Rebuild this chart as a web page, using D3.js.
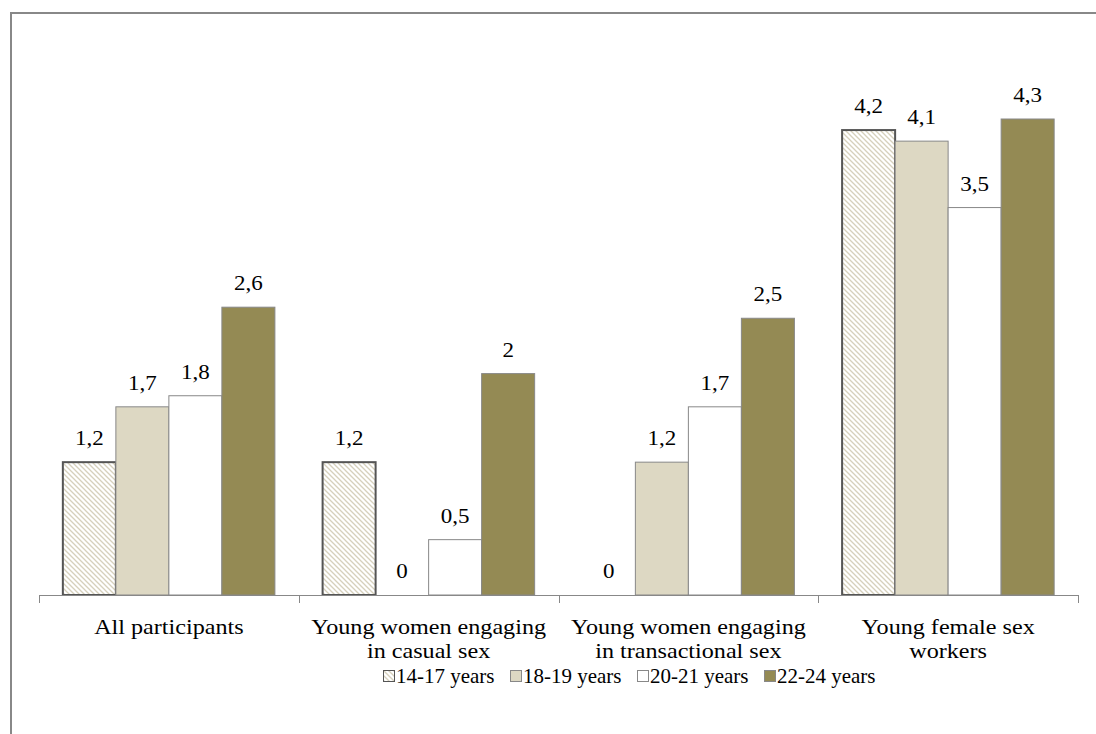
<!DOCTYPE html>
<html><head><meta charset="utf-8">
<script src="https://cdn.jsdelivr.net/npm/d3@7"></script>
<style>body{margin:0;background:#fff}svg{display:block}</style>
</head><body>
<svg id="c" width="1096" height="734"></svg>
<script>
const categories = [["All participants"],["Young women engaging","in casual sex"],["Young women engaging","in transactional sex"],["Young female sex","workers"]];
const seriesNames = ["14-17 years","18-19 years","20-21 years","22-24 years"];
const s1417 = [1.2, 1.2, 0, 4.2];
const s1819 = [1.7, 0, 1.2, 4.1];
const s2021 = [1.8, 0.5, 1.7, 3.5];
const s2224 = [2.6, 2, 2.5, 4.3];
const labels = [["1,2","1,2","0","4,2"],["1,7","0","1,2","4,1"],["1,8","0,5","1,7","3,5"],["2,6","2","2,5","4,3"]];
const seriesVals = [s1417, s1819, s2021, s2224];

const svg = d3.select("#c");
const defs = svg.append("defs");
const pat = defs.append("pattern").attr("id","hatch").attr("patternUnits","userSpaceOnUse")
  .attr("width",5).attr("height",5);
pat.append("rect").attr("width",5).attr("height",5).attr("fill","#fff");
pat.append("path").attr("d","M-1,-1 L6,6 M-1,4 L1,6 M4,-1 L6,1").attr("stroke","#d6d0bc").attr("stroke-width",1.3);

const fills = ["url(#hatch)","#ddd8c3","#ffffff","#948a54"];
const strokes = ["#555","#888","#888","#888"];
const sw = [2,1,1,1];

// frame
svg.append("path").attr("d","M11,740 L11,13 L1100,13").attr("fill","none").attr("stroke","#888").attr("stroke-width",2);

const x0 = d3.scaleBand().domain(d3.range(categories.length)).range([39,1078]);
const x1 = d3.scaleBand().domain(d3.range(4)).range([0,x0.bandwidth()]).paddingOuter(0.45).paddingInner(0);
const y = d3.scaleLinear().domain([0,4.3]).range([595,119]);

function stxt(sel, x, yy, size, sx, anchor, s){
  return sel.append("text").attr("transform",`translate(${x},${yy}) scale(${sx},1)`)
    .attr("text-anchor",anchor).style("font-family",'"Liberation Serif"').style("font-size",size+"px").attr("fill","#000").text(s);
}

const g = svg.append("g");
seriesVals.forEach((vals,si)=>{
  vals.forEach((v,ci)=>{
    const bx = x0(ci)+x1(si);
    if(v>0){
      g.append("rect").attr("x",bx).attr("y",y(v)).attr("width",x1.bandwidth()).attr("height",y(0)-y(v))
        .attr("fill",fills[si]).attr("stroke",strokes[si]).attr("stroke-width",sw[si]);
    }
    stxt(g, bx+x1.bandwidth()/2, y(v)-17, 20, 1.15, "middle", labels[si][ci]);
  });
});

// axis
svg.append("line").attr("x1",39).attr("x2",1078).attr("y1",595.5).attr("y2",595.5).attr("stroke","#888").attr("stroke-width",1);
const ticks = d3.range(categories.length+1).map(i=> i<categories.length? x0(i): x0(categories.length-1)+x0.bandwidth());
ticks.forEach(t=>svg.append("line").attr("x1",Math.round(t)+0.5).attr("x2",Math.round(t)+0.5).attr("y1",595).attr("y2",603).attr("stroke","#888"));

categories.forEach((lines,ci)=>{
  lines.forEach((l,li)=>{
    stxt(svg, x0(ci)+x0.bandwidth()/2, 634+li*24, 21, 1.15, "middle", l);
  });
});

// legend
const legScale = d3.scalePoint().domain(seriesNames).range([383, 764]);
seriesNames.forEach((n,i)=>{
  const lg = svg.append("g").attr("transform",`translate(${legScale(n)},670)`);
  lg.append("rect").attr("x",0.5).attr("y",0.5).attr("width",11).attr("height",11)
    .attr("fill",fills[i]).attr("stroke",i===0?"#555":"#888").attr("stroke-width",1);
  stxt(lg, 13, 13, 20, 1.05, "start", n);
});
</script>
</body></html>
